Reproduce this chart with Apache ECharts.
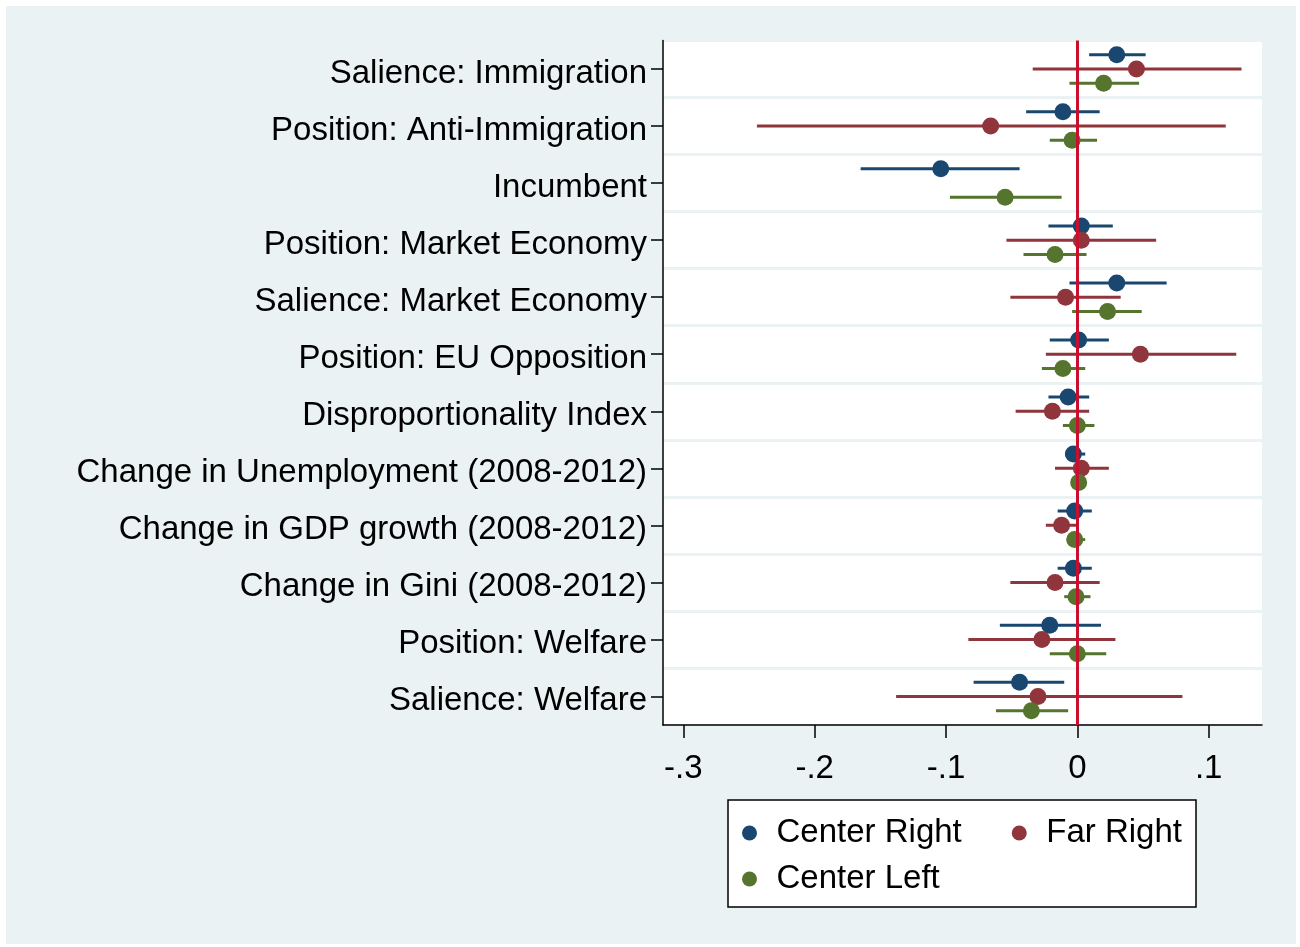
<!DOCTYPE html>
<html>
<head>
<meta charset="utf-8">
<script src="https://cdn.jsdelivr.net/npm/echarts@6/dist/echarts.min.js"></script>
<style>
  html, body { margin: 0; padding: 0; background: #ffffff; }
  #chart { position: absolute; left: 6px; top: 6px; width: 1290px; height: 938px; }
</style>
</head>
<body>
<div id="chart"></div>
<script>
// Coefficient estimates with 95% confidence intervals, by party family
const categories = [
  'Salience: Immigration',
  'Position: Anti-Immigration',
  'Incumbent',
  'Position: Market Economy',
  'Salience: Market Economy',
  'Position: EU Opposition',
  'Disproportionality Index',
  'Change in Unemployment (2008-2012)',
  'Change in GDP growth (2008-2012)',
  'Change in Gini (2008-2012)',
  'Position: Welfare',
  'Salience: Welfare'
];

const centerRightEst = [0.030, -0.011, -0.104, 0.003, 0.030, 0.001, -0.007, -0.003, -0.002, -0.003, -0.021, -0.044];
const centerRightLo  = [0.009, -0.039, -0.165, -0.022, -0.006, -0.021, -0.022, -0.009, -0.015, -0.015, -0.059, -0.079];
const centerRightHi  = [0.052, 0.017, -0.044, 0.027, 0.068, 0.024, 0.009, 0.006, 0.011, 0.011, 0.018, -0.010];

const farRightEst = [0.045, -0.066, null, 0.003, -0.009, 0.048, -0.019, 0.003, -0.012, -0.017, -0.027, -0.030];
const farRightLo  = [-0.034, -0.244, null, -0.054, -0.051, -0.024, -0.047, -0.017, -0.024, -0.051, -0.083, -0.138];
const farRightHi  = [0.125, 0.113, null, 0.060, 0.033, 0.121, 0.009, 0.024, 0.001, 0.017, 0.029, 0.080];

const centerLeftEst = [0.020, -0.004, -0.055, -0.017, 0.023, -0.011, 0.000, 0.001, -0.002, -0.001, 0.000, -0.035];
const centerLeftLo  = [-0.006, -0.021, -0.097, -0.041, -0.004, -0.027, -0.011, -0.003, -0.008, -0.010, -0.021, -0.062];
const centerLeftHi  = [0.047, 0.015, -0.012, 0.007, 0.049, 0.006, 0.013, 0.004, 0.006, 0.010, 0.022, -0.007];

const xTicks = [-0.3, -0.2, -0.1, 0, 0.1];
const xTickLabels = ['-.3', '-.2', '-.1', '0', '.1'];

const FONT = '"Liberation Sans", Arial, Helvetica, sans-serif';
const FS = 33;

const groups = [
  { name: 'Center Right', color: '#1a476f', offset: -0.25, est: centerRightEst, lo: centerRightLo, hi: centerRightHi },
  { name: 'Far Right',    color: '#90353b', offset: 0,     est: farRightEst,    lo: farRightLo,    hi: farRightHi },
  { name: 'Center Left',  color: '#55752f', offset: 0.25,  est: centerLeftEst,  lo: centerLeftLo,  hi: centerLeftHi }
];

const series = [];

// vertical reference line at zero, kept beneath the estimates
series.push({
  type: 'custom',
  name: 'zero',
  xAxisIndex: 0,
  yAxisIndex: 1,
  z: 1,
  silent: true,
  data: [],
  renderItem: function () { return null; },
  markLine: {
    silent: true,
    symbol: ['none', 'none'],
    animation: false,
    label: { show: false },
    emphasis: { disabled: true },
    lineStyle: { color: '#c8102e', width: 3, type: 'solid' },
    data: [{ xAxis: 0 }]
  }
});

groups.forEach(g => {
  const barData = [];
  const dotData = [];
  categories.forEach((c, i) => {
    if (g.est[i] === null) return;
    const pos = i + 1 + g.offset;
    barData.push([g.lo[i], g.hi[i], pos]);
    dotData.push([g.est[i], pos]);
  });
  series.push({
    type: 'scatter',
    name: g.name,
    xAxisIndex: 0,
    yAxisIndex: 1,
    z: 3,
    symbol: 'circle',
    symbolSize: 17,
    itemStyle: { color: g.color, opacity: 1 },
    data: dotData
  });
  series.push({
    type: 'custom',
    name: g.name,
    xAxisIndex: 0,
    yAxisIndex: 1,
    z: 2,
    dimensions: ['lo', 'hi', 'pos'],
    encode: { x: [0, 1], y: 2 },
    renderItem: function (params, api) {
      const y = api.value(2);
      const p1 = api.coord([api.value(0), y]);
      const p2 = api.coord([api.value(1), y]);
      return {
        type: 'line',
        shape: { x1: p1[0], y1: p1[1], x2: p2[0], y2: p2[1] },
        style: { stroke: g.color, lineWidth: 3 }
      };
    },
    itemStyle: { color: g.color },
    data: barData
  });
});

const legendText = { fontSize: FS, color: '#000', fontFamily: FONT, lineHeight: 34 };

const option = {
  backgroundColor: '#eaf2f3',
  animation: false,
  textStyle: { fontFamily: FONT },
  grid: {
    left: 657, top: 34.5, width: 599, height: 684.5,
    show: true, backgroundColor: '#ffffff', borderWidth: 0, containLabel: false
  },
  xAxis: {
    type: 'value',
    min: -0.3155,
    max: 0.1406,
    splitLine: { show: false },
    axisLine: { show: true, onZero: false, lineStyle: { color: '#000', width: 1.5 } },
    axisTick: { show: true, customValues: xTicks, length: 13, lineStyle: { color: '#000', width: 1.5 } },
    axisLabel: {
      customValues: xTicks,
      margin: 27.5,
      fontSize: FS,
      color: '#000',
      fontFamily: FONT,
      formatter: function (v) {
        const k = xTicks.findIndex(t => Math.abs(t - v) < 1e-9);
        return k >= 0 ? xTickLabels[k] : '';
      }
    }
  },
  yAxis: [
    {
      type: 'category',
      data: categories,
      inverse: true,
      boundaryGap: true,
      position: 'left',
      axisLine: { show: true, onZero: false, lineStyle: { color: '#000', width: 1.5 } },
      axisTick: { show: true, alignWithLabel: true, length: 12, lineStyle: { color: '#000', width: 1.5 } },
      axisLabel: {
        margin: 16, fontSize: FS, color: '#000', fontFamily: FONT, interval: 0,
        verticalAlign: 'top', lineHeight: 9
      },
      splitLine: { show: true, interval: 0, lineStyle: { color: '#eaf2f3', width: 3 } }
    },
    {
      type: 'value',
      min: 0.5,
      max: 12.5,
      inverse: true,
      position: 'right',
      show: false,
      axisLine: { show: false, onZero: false },
      axisTick: { show: false },
      axisLabel: { show: false },
      splitLine: { show: false }
    }
  ],
  legend: [
    {
      data: [{ name: 'Center Right', icon: 'circle' }, { name: 'Far Right', icon: 'circle' }],
      left: 736, top: 810,
      orient: 'horizontal',
      itemWidth: 44, itemHeight: 15, itemGap: 50, padding: 0,
      textStyle: legendText
    },
    {
      data: [{ name: 'Center Left', icon: 'circle' }],
      left: 736, top: 856,
      orient: 'horizontal',
      itemWidth: 44, itemHeight: 15, itemGap: 50, padding: 0,
      textStyle: legendText
    }
  ],
  graphic: [
    {
      type: 'rect',
      z: 1,
      shape: { x: 722, y: 794, width: 468, height: 107 },
      style: { fill: '#ffffff', stroke: '#000', lineWidth: 1.5 }
    }
  ],
  series: series
};

const chart = echarts.init(document.getElementById('chart'), null, { renderer: 'canvas' });
chart.setOption(option);
</script>
</body>
</html>
